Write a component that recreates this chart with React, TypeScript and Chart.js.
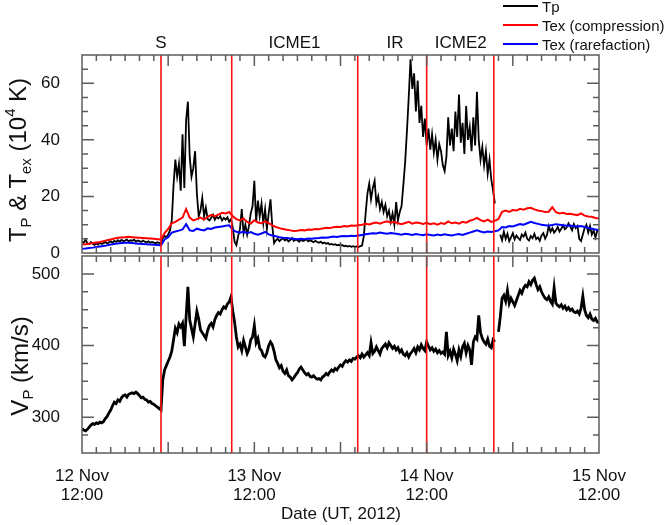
import { useEffect, useRef } from 'react';
import { Chart, registerables } from 'chart.js';

Chart.register(...registerables);

// time axis: hours after 12 Nov 2012 12:00 UT
const xMin = 0;
const xMax = 72;
const fineStep = 0.25; // hours between Tp / Vp samples
const coarseStep = 0.5; // hours between Tex samples

// proton temperature Tp (10^4 K)
const tp = [
  4.2, 3.6, 4.8, 3.4, 3.1, 3.9, 3.3, 2.9, 3.4, 3.0, 3.7, 3.2,
  3.5, 3.9, 3.3, 3.8, 4.1, 3.6, 4.3, 3.9, 4.5, 4.0, 4.6, 4.2,
  4.4, 4.8, 4.1, 4.5, 4.3, 4.7, 4.0, 4.4, 4.2, 3.9, 4.4, 4.0,
  3.8, 4.1, 3.6, 3.9, 3.7, 3.4, 3.8, 3.5, 3.6, 5.2, 6.0, 5.6,
  6.5, 8.0, 11.5, 24.0, 33.0, 27.0, 31.5, 22.0, 42.0, 23.0, 47.0, 53.5,
  34.0, 27.0, 30.0, 36.0, 21.0, 13.0, 15.0, 19.5, 13.0, 16.0, 12.0, 11.5,
  12.5, 13.5, 11.8, 12.8, 12.2, 13.0, 11.5, 12.4, 11.8, 12.6, 11.0, 12.0,
  9.0, 4.0, 2.8, 6.0, 8.5, 15.5, 7.0, 10.0, 6.5, 9.5, 14.0, 16.5,
  25.5, 11.0, 18.5, 13.0, 17.5, 10.5, 15.5, 8.5, 14.0, 19.0, 9.5, 3.5,
  4.5, 5.0, 4.2, 4.8, 5.2, 4.4, 4.9, 4.1, 4.6, 5.3, 4.3, 4.8,
  4.5, 4.0, 4.7, 4.2, 4.4, 4.9, 4.1, 4.5, 4.2, 3.8, 4.3, 3.9,
  3.6, 4.0, 3.4, 3.7, 3.3, 3.5, 3.0, 3.2, 2.9, 3.1, 2.7, 2.9,
  2.6, 2.8, 2.4, 2.6, 2.3, 2.5, 2.2, 2.4, 2.2, 2.3, 2.1, 2.4,
  2.6, 6.0, 14.0, 21.0, 24.5, 19.0, 23.0, 25.5, 17.5, 20.0, 15.5, 18.0,
  14.5, 17.0, 13.0, 15.0, 11.0, 14.0, 10.0, 18.0, 11.5, 14.5, 16.5, 24.0,
  32.0, 43.0, 55.0, 68.5, 58.0, 63.5, 50.0, 61.0, 46.0, 52.0, 41.0, 47.5,
  38.0, 44.0, 36.5, 42.0, 35.5, 40.0, 33.0, 38.5, 36.0, 31.0, 29.0, 34.0,
  48.0, 38.0, 44.0, 36.0, 50.0, 41.0, 56.0, 39.0, 46.0, 35.0, 52.0, 40.0,
  44.5, 36.0, 48.0, 38.0, 57.0, 40.0, 33.0, 37.5, 31.0, 36.0, 28.0, 33.0,
  26.0, 22.0, 17.5, null, null, 6.5, 4.5, 7.5, 5.0, 6.8, 4.2, 5.5,
  7.0, 4.8, 6.2, 5.3, 4.6, 6.5, 5.8, 7.2, 5.0, 4.4, 6.0, 5.2,
  6.8, 4.9, 5.5, 4.3, 6.2, 7.0, 5.1, 6.4, 9.5, 7.5, 8.8, 7.2,
  8.0, 9.2, 7.6, 8.6, 9.8, 8.4, 9.0, 10.5, 9.3, 8.0, 10.2, 8.8,
  9.6, 5.0, 4.2, 6.5, 8.8, 10.0, 7.2, 9.5, 6.5, 8.0, 5.5, 7.8,
  8.5,
];

// expected temperature, compression regime (10^4 K)
const texCompression = [
  3.0, 3.1, 3.3, 3.5, 3.7, 3.9, 4.2, 4.5, 4.8, 5.1, 5.4, 5.5,
  5.6, 5.7, 5.6, 5.5, 5.4, 5.3, 5.2, 5.1, 5.0, 4.9, 4.8, 7.0,
  8.5, 10.5, 11.0, 11.8, 12.5, 15.5, 12.5, 11.5, 12.0, 12.5, 11.8, 12.8,
  13.5, 13.0, 13.6, 14.2, 14.0, 14.5, 13.0, 12.0, 11.5, 12.2, 11.0, 10.4,
  11.6, 10.8, 10.5, 11.2, 10.6, 9.8, 9.2, 8.8, 8.5, 8.2, 8.0, 7.8,
  7.9, 8.1, 8.0, 8.3, 8.2, 8.5, 8.4, 8.7, 8.9, 8.8, 9.1, 9.3,
  9.2, 9.5, 9.4, 9.7, 9.6, 9.8, 10.0, 10.3, 10.1, 10.5, 10.8, 10.4,
  10.9, 11.2, 10.7, 11.0, 10.5, 10.2, 10.6, 11.0, 10.4, 10.8, 10.6, 10.3,
  10.7, 10.2, 10.5, 10.0, 10.6, 10.3, 11.2, 10.5, 10.8, 10.4, 11.0, 10.7,
  11.4, 11.8, 12.4, 11.6, 11.2, 11.8, 11.0, 11.4, 12.0, 14.6, 15.0, 14.5,
  15.2, 15.0, 15.6, 15.3, 15.8, 16.0, 15.4, 15.0, 14.8, 14.5, 14.6, 16.2,
  14.4, 14.0, 14.2, 13.8, 13.9, 13.6, 13.4, 14.0, 13.2, 12.9, 12.8, 12.4,
  12.2,
];

// expected temperature, rarefaction regime (10^4 K)
const texRarefaction = [
  1.5, 1.6, 1.8, 1.9, 2.1, 2.3, 2.5, 2.7, 3.0, 3.2, 3.4, 3.5,
  3.6, 3.6, 3.5, 3.4, 3.3, 3.2, 3.1, 3.0, 2.9, 2.8, 2.7, 4.8,
  5.6, 7.2, 7.6, 7.9, 8.3, 10.2, 8.0, 7.8, 8.6, 8.2, 8.0, 8.7,
  8.5, 9.0, 9.2, 9.4, 9.6, 9.8, 8.2, 7.5, 7.2, 7.6, 7.0, 7.4,
  6.8, 6.5, 6.9, 7.5, 6.6, 6.2, 5.9, 5.6, 5.4, 5.3, 5.1, 5.0,
  4.9, 5.0, 4.9, 5.1, 5.0, 5.2, 5.3, 5.5, 5.4, 5.6, 5.8, 5.7,
  5.9, 6.0, 5.9, 6.1, 6.0, 6.2, 6.4, 6.6, 6.8, 7.0, 6.9, 7.2,
  7.0, 6.8, 7.1, 6.9, 6.7, 6.5, 6.8, 6.6, 6.4, 6.7, 6.5, 6.3,
  6.6, 6.4, 6.2, 6.5, 6.3, 6.6, 6.4, 6.2, 6.5, 6.7, 6.4, 6.8,
  7.2, 7.6, 8.0, 7.6, 7.3, 7.6, 7.4, 7.7, 8.0, 9.2, 9.0, 9.5,
  9.4, 9.8, 10.2, 10.0, 10.5, 11.0, 10.6, 10.3, 10.0, 9.8, 9.6, 9.9,
  10.2, 10.0, 9.8, 9.6, 9.7, 9.5, 9.4, 9.5, 9.2, 8.9, 8.6, 8.3,
  8.0,
];

// proton speed Vp (km/s)
const vp = [
  284, 282, 281, 283, 286, 289, 291, 290, 292, 291, 293, 292,
  294, 298, 301, 306, 310, 316, 321, 319, 324, 322, 327, 330,
  331, 328, 332, 333, 334, 333, 335, 333, 330, 327, 328, 325,
  324, 321, 322, 319, 318, 316, 314, 312, 310, 352, 366, 372,
  378, 384, 392, 408, 424, 418, 430, 426, 431, 399, 440, 482,
  436, 424, 412, 430, 448, 437, 422, 418, 414, 410, 421, 428,
  431, 426, 436, 442, 446, 444, 450, 454, 452, 458, 461, 468,
  448, 433, 412, 398, 402, 393, 407, 398, 389, 395, 408, 412,
  428, 404, 410, 396, 393, 386, 384, 390, 400, 405, 401, 392,
  380, 375, 369, 372, 364, 361, 366, 358, 356, 352, 355, 359,
  362, 367, 370, 366, 362, 359, 361, 357, 356, 358, 355, 353,
  354, 352, 356, 358, 361, 359, 363, 366, 364, 368, 366, 370,
  373, 371, 376, 379, 377, 380, 378, 382, 381, 384, 386, 383,
  388, 384, 387, 390, 386, 404, 389, 392, 398, 393, 388, 396,
  399, 402, 397, 404, 400, 396, 399, 394, 397, 391, 394, 388,
  386, 390, 384, 389, 392, 396, 390, 398, 394, 401, 396, 393,
  405, 399, 394, 397, 392, 395, 390, 393, 389, 391, 388, 419,
  386, 392, 383, 395, 388, 379, 394, 385, 398, 403, 390, 400,
  394, 373, 405, 412, 409, 442, 418, 410, 405, 402, 409, 399,
  397, 408, 405, null, 419, 440, 466, 470, 462, 477, 459, 466,
  461, 456, 463, 470, 477, 473, 480, 484, 482, 489, 485, 491,
  494, 485, 478, 482, 475, 470, 466, 464, 468, 462, 458, 481,
  459, 456, 454, 457, 452, 455, 450, 453, 449, 451, 447, 446,
  448, 444, 452, 469, 450, 442, 439, 444, 437, 435, 438, 433,
  432,
];

// boundaries (hours) and region names
const eventTimes = [11.0, 20.85, 38.4, 48.0, 57.35];
const regionNames = ['S', 'ICME1', 'IR', 'ICME2'];
const regionTimes = [11.0, 29.6, 43.6, 52.75];

const dateTicks = [0, 24, 48, 72];
const dateLabels = [['12 Nov', '12:00'], ['13 Nov', '12:00'], ['14 Nov', '12:00'], ['15 Nov', '12:00']];
const tempTicks = [0, 20, 40, 60];
const speedTicks = [300, 400, 500];

const FONT = '"Liberation Sans", Arial, Helvetica, sans-serif';
const W = 671;
const H = 525;

const toPoints = (values: (number | null)[], step: number) =>
  values.map((v, i) => ({ x: i * step, y: v }));

function panelPlugin(kind: 'top' | 'bottom') {
  return {
    id: 'panelFrame',
    afterDatasetsDraw(chart: any) {
      const { ctx, chartArea: a } = chart;
      const xs = chart.scales.x;
      const ys = chart.scales.y;
      ctx.save();

      // region boundaries
      ctx.strokeStyle = '#ff1010';
      ctx.lineWidth = 1.6;
      eventTimes.forEach((t) => {
        const px = xs.getPixelForValue(t);
        ctx.beginPath();
        ctx.moveTo(px, a.top);
        ctx.lineTo(px, a.bottom);
        ctx.stroke();
      });

      // frame + inward ticks
      ctx.strokeStyle = '#5c5c5c';
      ctx.lineWidth = 1.5;
      ctx.strokeRect(a.left, a.top, a.right - a.left, a.bottom - a.top);
      ctx.beginPath();
      for (let t = xMin + 2; t < xMax; t += 2) {
        const px = xs.getPixelForValue(t);
        const len = t % 12 === 0 ? 11 : 6;
        ctx.moveTo(px, a.bottom);
        ctx.lineTo(px, a.bottom - len);
        ctx.moveTo(px, a.top);
        ctx.lineTo(px, a.top + len);
      }
      const minor = kind === 'top' ? 5 : 25;
      const major = kind === 'top' ? 20 : 100;
      for (let v = ys.min + minor; v < ys.max; v += minor) {
        const py = ys.getPixelForValue(v);
        const len = v % major === 0 ? 12 : 6;
        ctx.moveTo(a.left, py);
        ctx.lineTo(a.left + len, py);
        ctx.moveTo(a.right, py);
        ctx.lineTo(a.right - len, py);
      }
      ctx.stroke();

      if (kind === 'top') {
        ctx.fillStyle = '#111';
        ctx.font = `17px ${FONT}`;
        ctx.textAlign = 'center';
        ctx.textBaseline = 'middle';
        regionNames.forEach((name, i) => {
          ctx.fillText(name, xs.getPixelForValue(regionTimes[i]), 43);
        });
      }
      ctx.restore();
    },
  };
}

const xScale = (show: boolean) => ({
  type: 'linear' as const,
  min: xMin,
  max: xMax,
  display: show,
  grid: { display: false },
  border: { display: false },
  afterBuildTicks: (scale: any) => {
    scale.ticks = dateTicks.map((v) => ({ value: v }));
  },
  afterFit: (scale: any) => {
    scale.height = show ? H - 453 : 0;
  },
  ticks: {
    autoSkip: false,
    maxRotation: 0,
    padding: 6,
    color: '#111',
    font: { family: FONT, size: 17, lineHeight: 1.12 },
    callback: (value: any) => {
      const i = dateTicks.indexOf(Number(value));
      return i >= 0 ? dateLabels[i] : '';
    },
  },
});

const yScale = (min: number, max: number, ticks: number[]) => ({
  type: 'linear' as const,
  min,
  max,
  grid: { display: false },
  border: { display: false },
  afterBuildTicks: (scale: any) => {
    scale.ticks = ticks.map((v) => ({ value: v }));
  },
  afterFit: (scale: any) => {
    scale.width = 82;
  },
  ticks: {
    padding: 14,
    color: '#111',
    font: { family: FONT, size: 17 },
  },
});

export default function App() {
  const topRef = useRef<HTMLCanvasElement>(null);
  const bottomRef = useRef<HTMLCanvasElement>(null);

  useEffect(() => {
    if (!topRef.current || !bottomRef.current) return;

    const common = {
      responsive: false,
      animation: false as const,
      events: [],
      plugins: { legend: { display: false }, tooltip: { enabled: false } },
      elements: { point: { radius: 0 }, line: { tension: 0 } },
    };

    const top = new Chart(topRef.current, {
      type: 'line',
      data: {
        datasets: [
          { label: 'Tp', data: toPoints(tp, fineStep), borderColor: '#000', borderWidth: 1.8, order: 3 },
          { label: 'Tex (compression)', data: toPoints(texCompression, coarseStep), borderColor: '#ff0000', borderWidth: 2, order: 2 },
          { label: 'Tex (rarefaction)', data: toPoints(texRarefaction, coarseStep), borderColor: '#0000ff', borderWidth: 2, order: 1 },
        ],
      },
      options: {
        ...common,
        layout: { padding: { left: 0, right: W - 599, top: 55, bottom: H - 253 } },
        scales: { x: xScale(false), y: yScale(0, 70, tempTicks) },
      },
      plugins: [panelPlugin('top')],
    } as any);

    const bottom = new Chart(bottomRef.current, {
      type: 'line',
      data: {
        datasets: [
          { label: 'Vp', data: toPoints(vp, fineStep), borderColor: '#000', borderWidth: 2.8 },
        ],
      },
      options: {
        ...common,
        layout: { padding: { left: 0, right: W - 599, top: 256, bottom: 0 } },
        scales: { x: xScale(true), y: yScale(250, 525, speedTicks) },
      },
      plugins: [panelPlugin('bottom')],
    } as any);

    return () => {
      top.destroy();
      bottom.destroy();
    };
  }, []);

  const layer: React.CSSProperties = { position: 'absolute', left: 0, top: 0, width: W, height: H };
  const rotated = (cx: number, cy: number): React.CSSProperties => ({
    position: 'absolute',
    left: cx,
    top: cy,
    transform: 'translate(-50%, -50%) rotate(-90deg)',
    whiteSpace: 'nowrap',
    fontSize: 24,
    lineHeight: 1,
  });
  const sub: React.CSSProperties = { fontSize: '0.62em', verticalAlign: '-0.32em', lineHeight: 0 };
  const sup: React.CSSProperties = { fontSize: '0.62em', verticalAlign: '0.75em', lineHeight: 0 };
  const legendRows = [
    { name: 'Tp', color: '#000', y: 6 },
    { name: 'Tex (compression)', color: '#ff0000', y: 25 },
    { name: 'Tex (rarefaction)', color: '#0000ff', y: 44 },
  ];

  return (
    <div style={{ ...layer, fontFamily: FONT, color: '#111', background: '#fff' }}>
      <div style={layer}>
        <canvas ref={topRef} width={W} height={H} />
      </div>
      <div style={layer}>
        <canvas ref={bottomRef} width={W} height={H} />
      </div>
      <div style={rotated(18, 160)}>
        T<span style={sub}>P</span> &amp; T<span style={sub}>ex</span> (10<span style={sup}>4</span> K)
      </div>
      <div style={rotated(20, 366)}>
        V<span style={sub}>P</span> (km/s)
      </div>
      <div
        style={{
          position: 'absolute',
          left: 341,
          top: 514,
          transform: 'translate(-50%, -50%)',
          fontSize: 17,
          whiteSpace: 'nowrap',
        }}
      >
        Date (UT, 2012)
      </div>
      {legendRows.map((r) => (
        <div key={r.name}>
          <div style={{ position: 'absolute', left: 503, top: r.y - 1, width: 35, height: 2, background: r.color }} />
          <div
            style={{
              position: 'absolute',
              left: 542,
              top: r.y,
              transform: 'translateY(-50%)',
              fontSize: 15,
              lineHeight: 1,
              whiteSpace: 'nowrap',
            }}
          >
            {r.name}
          </div>
        </div>
      ))}
    </div>
  );
}
